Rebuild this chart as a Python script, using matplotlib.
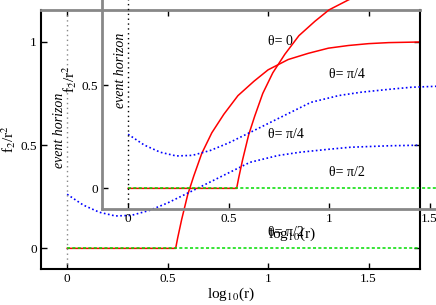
import matplotlib
matplotlib.use("Agg")
import matplotlib.pyplot as plt

plt.rcParams['font.family'] = ['Liberation Serif', 'DejaVu Serif']
plt.rcParams['mathtext.fontset'] = 'stix'

# theta = 0 (red), zero before the rise
r_theta0 = [0.0, 0.54, 0.55, 0.57, 0.6, 0.63, 0.67, 0.72, 0.78, 0.85, 0.93,
            1.0, 1.1, 1.2, 1.3, 1.4, 1.5, 1.6, 1.76]
f_theta0 = [0.0, 0.0, 0.05, 0.14, 0.26, 0.35, 0.46, 0.56, 0.65, 0.74, 0.81,
            0.865, 0.915, 0.945, 0.97, 0.983, 0.992, 0.997, 1.0]

# theta = pi/4 (blue)
r_theta4 = [0.0, 0.08, 0.16, 0.24, 0.32, 0.41, 0.5, 0.63, 0.75, 0.91, 1.05,
            1.16, 1.3, 1.41, 1.6, 1.76]
f_theta4 = [0.262, 0.21, 0.175, 0.157, 0.16, 0.184, 0.22, 0.282, 0.34, 0.417,
            0.45, 0.466, 0.48, 0.49, 0.497, 0.5]

# theta = pi/2 (green)
r_theta2 = [0.0, 1.76]
f_theta2 = [0.0, 0.0]

xticks = [0, 0.5, 1, 1.5]
xtick_labels = ['0', '0.5', '1', '1.5']
yticks = [0, 0.5, 1]
ytick_labels = ['0', '0.5', '1']

W, H = 436, 305
fig = plt.figure(figsize=(W / 100, H / 100), dpi=100)

def draw(ax, frame_color, eh_color):
    ax.set_facecolor('none')
    ax.plot(r_theta0, f_theta0, color='red', lw=1.1)
    ax.plot(r_theta4, f_theta4, color='blue', lw=1.2, ls=(0, (1, 1.5)))
    ax.plot(r_theta2, f_theta2, color='#00dd00', lw=1.1, ls=(0, (2, 1.5)))
    ax.axvline(0, color=eh_color, lw=1.0, ls=(0, (1, 2.5)))
    ax.set_xlim(-0.13, 1.756)
    ax.set_ylim(-0.1, 1.155)
    ax.set_xticks(xticks, xtick_labels)
    ax.set_yticks(yticks, ytick_labels)
    ax.tick_params(direction='in', length=4, width=1, top=True, right=True,
                   labelsize=9.5, pad=3)
    ax.set_xlabel(r'log$_{10}$(r)', fontsize=11, labelpad=0)
    ax.set_ylabel(r'f$_2$/r$^2$', fontsize=11, labelpad=2)
    ax.text(-0.04, 0.57, 'event horizon', rotation=90, style='italic',
            ha='center', va='center', fontsize=10)
    ax.text(1.0, 1.0, 'θ= 0', ha='left', va='center', fontsize=10)
    ax.text(1.0, 0.55, 'θ= π/4', ha='left', va='center', fontsize=10)
    ax.text(1.0, 0.078, 'θ= π/2', ha='left', va='center', fontsize=10)
    for s in ax.spines.values():
        s.set_color(frame_color)
        s.set_linewidth(1.5)

# main plot
x0, y0, w, h = 41, 269, 379, 259
ax = fig.add_axes([x0 / W, (H - y0) / H, w / W, h / H])
draw(ax, 'black', '#888888')
ax.spines['top'].set_color('#888888')
ax.spines['top'].set_linewidth(2)

# shifted copy
dx, dy = 61, 60
ax2 = fig.add_axes([(x0 + dx) / W, (H - y0 + dy) / H, w / W, h / H])
draw(ax2, '#888888', 'black')
for s in ax2.spines.values():
    s.set_linewidth(2)

fig.savefig('out.png', dpi=100)
